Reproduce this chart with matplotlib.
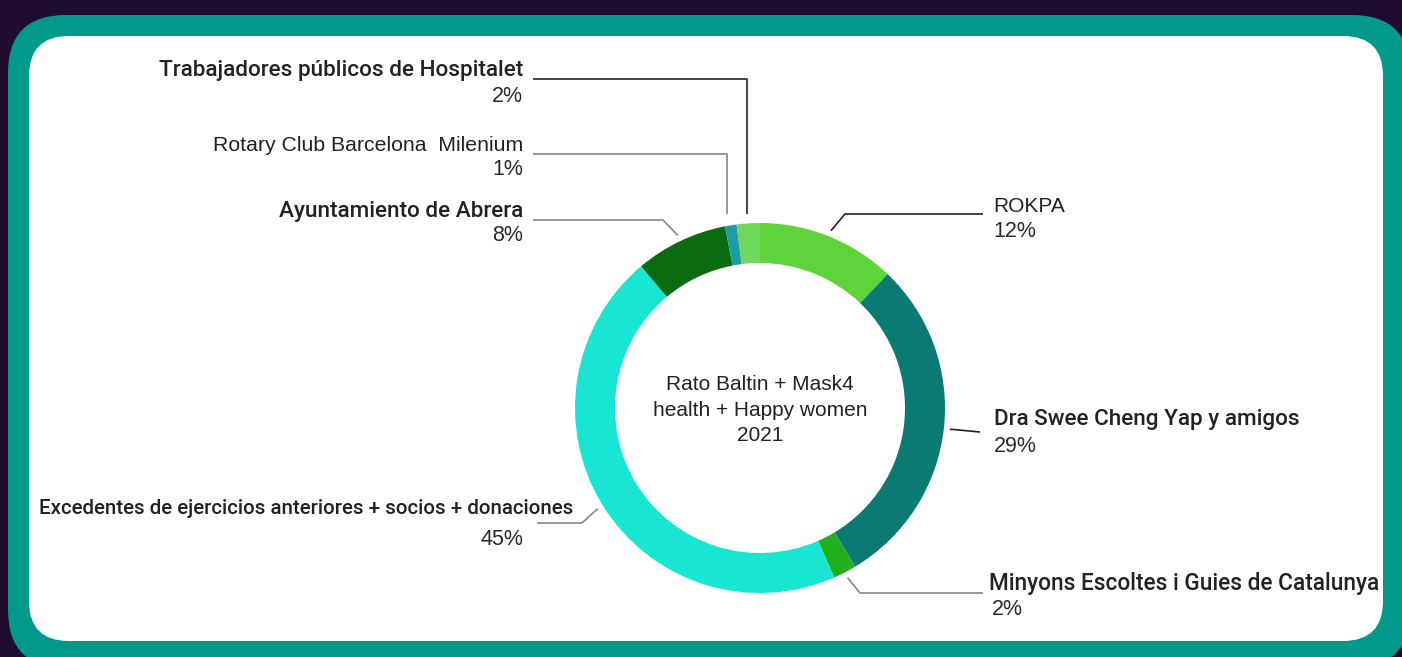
import numpy as np
import matplotlib
matplotlib.use("Agg")
import matplotlib.pyplot as plt
from matplotlib.patches import FancyBboxPatch

# data (clockwise from 12 o'clock)
names = ["ROKPA", "Dra Swee Cheng Yap y amigos", "Minyons Escoltes i Guies de Catalunya",
         "Excedentes de ejercicios anteriores + socios + donaciones", "Ayuntamiento de Abrera",
         "Rotary Club Barcelona  Milenium", "Trabajadores públicos de Hospitalet"]
shares = [12, 29, 2, 45, 8, 1, 2]
colors = ["#5ed43a", "#0b7a72", "#21b01b", "#19e5d3", "#0a6b0f", "#1a9fa8", "#6ed95c"]
center_title = "Rato Baltin + Mask4\nhealth + Happy women\n2021"

W, H = 1402, 657
fig = plt.figure(figsize=(W / 100, H / 100), dpi=100)
fig.patch.set_facecolor("#200c30")
ax = fig.add_axes([0, 0, 1, 1])

def Y(y):
    return H - y

# frame
ax.add_patch(FancyBboxPatch((8 + 58, Y(668) + 58), 1410 - 8 - 116, 668 - 15 - 116,
                            boxstyle="round,pad=58", fc="#00998c", ec="none", zorder=0))
ax.add_patch(FancyBboxPatch((29 + 40, Y(641) + 40), 1383 - 29 - 80, 641 - 36 - 80,
                            boxstyle="round,pad=40", fc="white", ec="none", zorder=0))

cx, cy, R = 760, Y(408), 185
wedges, _ = ax.pie(shares, colors=colors, startangle=90, counterclock=False,
                   center=(cx, cy), radius=R, wedgeprops=dict(width=40, linewidth=0))

ax.text(cx, Y(410), center_title, ha="center", va="center", fontsize=15,
        family="Liberation Sans", color="#222222", linespacing=1.45)

# label layout: (name x, name baseline, pct x, pct baseline, ha, name font, size, elbow points, line colour)
layout = [
    (993, 212, 993, 237, "left", "Liberation Sans", 15, [(845, 214), (983, 214)], "#222222"),
    (994, 425, 994, 452, "left", "Roboto", 16.2, [(980, 432)], "#222222"),
    (989, 590, 992, 615, "left", "Roboto", 16.3, [(860, 593), (983, 593)], "#888888"),
    (573, 514, 523, 545, "right", "Roboto", 14.8, [(582, 523), (537, 523)], "#888888"),
    (523, 217, 523, 241, "right", "Roboto", 16.2, [(663, 220), (533, 220)], "#888888"),
    (523, 151, 523, 175, "right", "Liberation Sans", 15.3, [(727, 154), (533, 154)], "#888888"),
    (523, 76, 523, 102, "right", "Roboto", 16.2, [(747, 79), (533, 79)], "#222222"),
]

for w, name, val, (nx, ny, px, py, ha, fam, fs, elbow, lc) in zip(wedges, names, shares, layout):
    ang = np.deg2rad((w.theta1 + w.theta2) / 2)
    r = R + 6
    ax_, ay_ = cx + r * np.cos(ang), cy + r * np.sin(ang)
    if elbow[0][0] in (727, 747):
        # vertical drop onto the thin top slices
        ax_, ay_ = elbow[0][0], Y(214)
    xs = [ax_] + [p[0] for p in elbow]
    ys = [ay_] + [Y(p[1]) for p in elbow]
    ax.plot(xs, ys, color=lc, lw=1.2, solid_capstyle="butt")
    wt = "medium" if fam == "Roboto" else "normal"
    ax.text(nx, Y(ny), name, ha=ha, va="baseline", fontsize=fs, family=fam,
            fontweight=wt, color="#222222")
    ax.text(px, Y(py), f"{val}%", ha=ha, va="baseline", fontsize=15.5,
            family="Liberation Sans", color="#2a2a2a")

ax.set_xlim(0, W)
ax.set_ylim(0, H)
ax.set_aspect("equal")
ax.axis("off")
fig.savefig("out.png", dpi=100, facecolor=fig.get_facecolor())
